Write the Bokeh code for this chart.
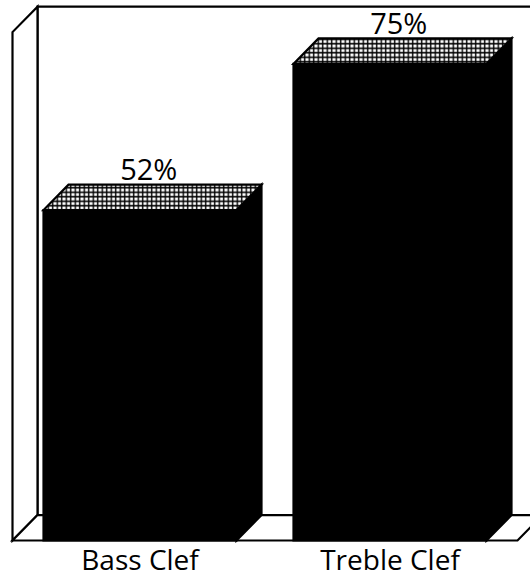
from bokeh.plotting import figure
from bokeh.models import Range1d, ColumnDataSource
from bokeh.core.properties import value
from bokeh.embed import file_html
from bokeh.resources import INLINE

# --- data -------------------------------------------------------------
categories = ["Bass Clef", "Treble Clef"]
percentages = [52, 75]
value_labels = ["52%", "75%"]

# --- 3D box geometry (data units: x = category index, y = percent) ----
WALL_TOP = 80          # height of the back/left walls, in percent
BAR_WIDTH = 0.772      # front-face width of each bar
DEPTH_X = 0.1          # oblique depth offset along x
DEPTH_Y = 4.0          # oblique depth offset along y (percent)
FLOOR_LEFT = -0.51
FLOOR_RIGHT = 1.51

W, H = 530, 578
p = figure(width=W, height=H, output_backend="svg", toolbar_location=None,
           x_range=Range1d(-0.558, 1.562), y_range=Range1d(-5.98, 84.97),
           x_axis_type=None, y_axis_type=None,
           min_border=0, outline_line_color=None,
           background_fill_color="white", border_fill_color="white")
p.grid.visible = False

OUT = dict(line_color="black", line_width=2.2, line_join="miter")

# back wall (lies on the rear plane)
p.patch([FLOOR_LEFT + DEPTH_X, FLOOR_RIGHT + DEPTH_X,
         FLOOR_RIGHT + DEPTH_X, FLOOR_LEFT + DEPTH_X],
        [DEPTH_Y, DEPTH_Y, WALL_TOP + DEPTH_Y, WALL_TOP + DEPTH_Y],
        fill_color="white", **OUT)

# left side wall
p.patch([FLOOR_LEFT, FLOOR_LEFT, FLOOR_LEFT + DEPTH_X, FLOOR_LEFT + DEPTH_X],
        [0, WALL_TOP, WALL_TOP + DEPTH_Y, DEPTH_Y],
        fill_color="white", **OUT)

# floor
p.patch([FLOOR_LEFT, FLOOR_RIGHT, FLOOR_RIGHT + DEPTH_X, FLOOR_LEFT + DEPTH_X],
        [0, 0, DEPTH_Y, DEPTH_Y],
        fill_color="white", **OUT)

# bars: front and side faces solid black, top face dotted
front_xs, front_ys, side_xs, side_ys, top_xs, top_ys = [], [], [], [], [], []
for i, v in enumerate(percentages):
    l, r = i - BAR_WIDTH / 2, i + BAR_WIDTH / 2
    front_xs.append([l, r, r, l])
    front_ys.append([0, 0, v, v])
    side_xs.append([r, r + DEPTH_X, r + DEPTH_X, r])
    side_ys.append([0, DEPTH_Y, v + DEPTH_Y, v])
    top_xs.append([l, r, r + DEPTH_X, l + DEPTH_X])
    top_ys.append([v, v, v + DEPTH_Y, v + DEPTH_Y])

p.patches(side_xs, side_ys, fill_color="black", **OUT)
p.patches(front_xs, front_ys, fill_color="black", **OUT)
p.patches(top_xs, top_ys, fill_color="white", hatch_pattern="+",
          hatch_color="black", hatch_scale=4.5, hatch_weight=1.4, **OUT)

# value labels above each bar
lab = ColumnDataSource(dict(
    x=[i + 0.035 for i in range(len(percentages))],
    y=[v + DEPTH_Y + 2.5 for v in percentages],
    text=value_labels))
p.text("x", "y", "text", source=lab, text_font=value("Open Sans"),
       text_font_size="29px", text_align="center",
       text_baseline="alphabetic", text_color="black")

# category labels under the floor
cat = ColumnDataSource(dict(
    x=list(range(len(categories))),
    y=[-2.9] * len(categories),
    text=categories))
p.text("x", "y", "text", source=cat, text_font=value("Open Sans"),
       text_font_size="28px", text_align="center",
       text_baseline="alphabetic", text_color="black")

open("out.html", "w").write(file_html(p, INLINE))
